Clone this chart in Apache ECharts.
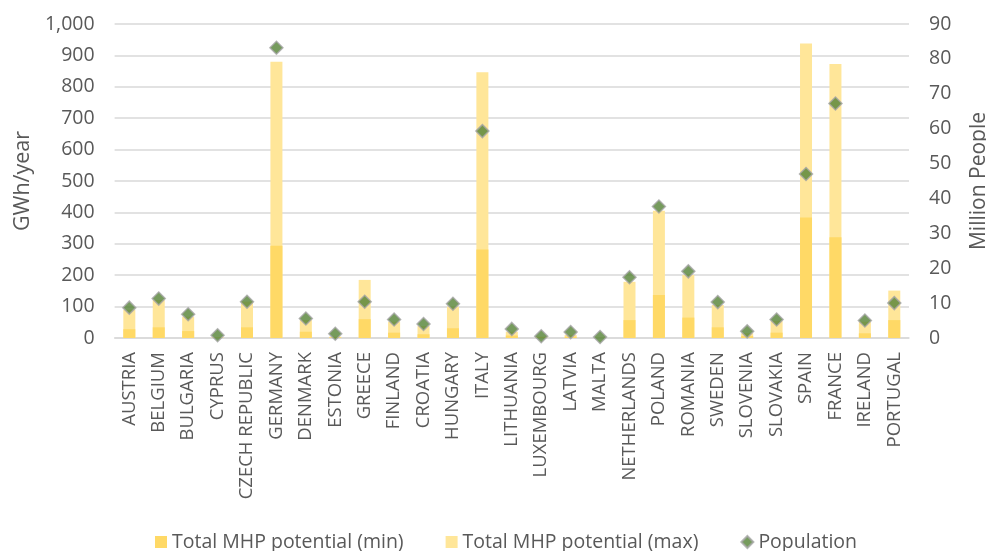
<!DOCTYPE html>
<html>
<head>
<meta charset="utf-8">
<script src="https://cdn.jsdelivr.net/npm/echarts@6/dist/echarts.min.js"></script>
<style>
  html, body { margin: 0; padding: 0; background: #fff; }
  #chart { width: 986px; height: 551px; }
</style>
</head>
<body>
<div id="chart"></div>
<script>
// countries on the x axis
var countries = ['AUSTRIA', 'BELGIUM', 'BULGARIA', 'CYPRUS', 'CZECH REPUBLIC', 'GERMANY', 'DENMARK',
  'ESTONIA', 'GREECE', 'FINLAND', 'CROATIA', 'HUNGARY', 'ITALY', 'LITHUANIA', 'LUXEMBOURG',
  'LATVIA', 'MALTA', 'NETHERLANDS', 'POLAND', 'ROMANIA', 'SWEDEN', 'SLOVENIA', 'SLOVAKIA',
  'SPAIN', 'FRANCE', 'IRELAND', 'PORTUGAL']

// GWh/year
var mhpMin = [28, 34, 22, 1, 34, 294, 20, 2, 60, 17, 12, 31, 282, 8, 2, 4, 0, 57, 137, 65, 34, 6, 17, 384, 321, 15, 57]
var mhpMax = [90, 121, 68, 2, 116, 880, 57, 4, 185, 52, 38, 100, 846, 20, 4, 10, 1, 179, 405, 201, 105, 15, 55, 938, 873, 52, 151]

// million people
var population = [8.7, 11.3, 6.8, 0.8, 10.4, 83.2, 5.6, 1.2, 10.4, 5.3, 4.0, 9.8, 59.3, 2.6, 0.5, 1.7, 0.3, 17.4, 37.7, 19.1, 10.3, 1.9, 5.3, 47.0, 67.2, 5.0, 10.0]

var leftTicks = { min: 0, max: 1000, interval: 100 }
var rightTicks = { min: 0, max: 90, interval: 10 }

var chart = echarts.init(document.getElementById('chart'))
var font = 'Open Sans'
var grey = '#595959'

chart.setOption({
  animation: false,
  textStyle: { fontFamily: font },
  grid: {
    left: 114.6,
    right: 77,
    top: 24,
    bottom: 213,
    outerBoundsMode: 'none'
  },
  legend: {
    top: 527,
    left: 150,
    itemGap: 42,
    itemWidth: 12,
    itemHeight: 12,
    textStyle: { color: grey, fontSize: 19.5, fontFamily: font },
    data: [
      { name: 'Total MHP potential (min)', icon: 'rect' },
      { name: 'Total MHP potential (max)', icon: 'rect' },
      { name: 'Population', icon: 'diamond' }
    ]
  },
  xAxis: {
    type: 'category',
    data: countries,
    axisLine: { lineStyle: { color: '#d9d9d9', width: 1.5 } },
    axisTick: { show: false },
    axisLabel: {
      rotate: 90,
      interval: 0,
      margin: 14,
      color: grey,
      fontSize: 18.5,
      fontFamily: font
    }
  },
  yAxis: [
    {
      type: 'value',
      min: leftTicks.min,
      max: leftTicks.max,
      interval: leftTicks.interval,
      name: 'GWh/year',
      nameLocation: 'middle',
      nameGap: 80,
      nameTextStyle: { color: grey, fontSize: 21.5, fontFamily: font },
      axisLabel: {
        color: grey,
        fontSize: 19.5,
        margin: 20,
        formatter: function (v) { return v.toLocaleString('en-US') }
      },
      splitLine: { lineStyle: { color: '#d9d9d9', width: 1.5 } },
      axisLine: { show: false },
      axisTick: { show: false }
    },
    {
      type: 'value',
      min: rightTicks.min,
      max: rightTicks.max,
      interval: rightTicks.interval,
      name: 'Million People',
      nameLocation: 'middle',
      nameGap: 60,
      nameRotate: 90,
      nameTextStyle: { color: grey, fontSize: 21, fontFamily: font },
      axisLabel: { color: grey, fontSize: 19.5, margin: 20 },
      splitLine: { show: false },
      axisLine: { show: false },
      axisTick: { show: false }
    }
  ],
  series: [
    {
      name: 'Total MHP potential (min)',
      type: 'bar',
      data: mhpMin,
      barWidth: 12,
      barGap: '-100%',
      z: 3,
      itemStyle: { color: '#ffd966' }
    },
    {
      name: 'Total MHP potential (max)',
      type: 'bar',
      data: mhpMax,
      barWidth: 12,
      barGap: '-100%',
      z: 2,
      itemStyle: { color: '#ffe699' }
    },
    {
      name: 'Population',
      type: 'scatter',
      yAxisIndex: 1,
      data: population,
      symbol: 'diamond',
      symbolSize: 13,
      z: 4,
      itemStyle: { color: '#548235', borderColor: '#a5a5a5', borderWidth: 1.5 }
    }
  ]
})
</script>
</body>
</html>
